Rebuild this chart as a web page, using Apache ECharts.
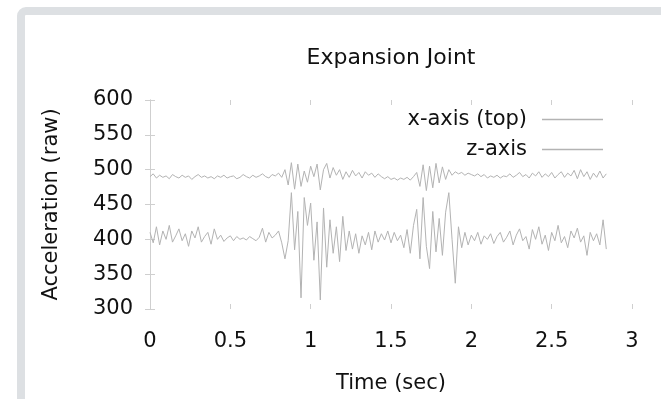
<!DOCTYPE html>
<html>
<head>
<meta charset="utf-8">
<script src="https://cdn.jsdelivr.net/npm/echarts@6.0.0/dist/echarts.min.js"></script>
<style>
  html, body { margin: 0; padding: 0; background: #fff; }
  #chart { width: 661px; height: 399px; }
</style>
</head>
<body>
<div id="chart"></div>
<script>
// sample spacing of the recording, seconds
const DT = 0.02;

const xTicks = [0, 0.5, 1, 1.5, 2, 2.5, 3];
const yTicks = [300, 350, 400, 450, 500, 550, 600];

// x-axis (top) accelerometer trace, raw counts
const xAxisRaw = [
  490, 494, 488, 492, 489, 491, 487, 493, 490, 488,
  492, 489, 491, 486, 490, 493, 489, 491, 488, 490,
  487, 491, 489, 492, 488, 490, 491, 487, 489, 493,
  490, 488, 492, 489, 491, 494, 490, 488, 493, 491,
  495, 489,
  500, 478, 510, 472, 508, 476, 498, 482, 505, 490,
  508, 471, 500, 509, 488, 503, 492, 500, 486, 497,
  489, 499, 491, 496, 488, 497, 492, 495, 489, 494,
  490, 487, 490, 486, 488, 485, 488, 486, 489, 485,
  490, 496, 476, 507, 470, 505, 474, 509, 481, 504,
  486, 500, 492, 497, 494, 496, 492, 495, 493, 491,
  494, 490, 493, 488, 491, 489, 492, 488, 491, 490,
  494, 489, 492, 496, 490, 493, 488, 495, 491, 497,
  489, 494, 490, 496, 488, 493, 497, 489, 495, 491,
  499, 487, 500, 490, 497, 486, 495, 489, 498, 488,
  494
];

// z-axis accelerometer trace, raw counts
const zAxisRaw = [
  410, 395, 418, 392, 412, 400, 420, 396, 405, 415,
  398, 408, 390, 412, 402, 418, 396, 404, 410, 393,
  415, 400, 406, 397, 402, 405, 398, 404, 400, 402,
  399, 404, 401, 398, 403, 416, 396, 410, 402, 406,
  412, 395, 372, 398, 467, 385, 440, 316, 460, 420,
  452, 370, 425, 313, 445, 360, 428, 380, 418, 368,
  433, 384, 412, 386, 408, 380, 405, 392, 410, 385,
  412, 396, 408, 399, 412, 395, 410, 398, 406, 388,
  414, 380, 420, 443, 372, 460, 390, 358, 440, 382,
  430, 377, 439, 467, 400, 337, 418, 388, 410, 392,
  406, 398, 410, 393, 405, 400, 408, 394, 404, 410,
  396, 403, 412, 392, 406, 415, 398, 404, 386, 414,
  400, 418, 393, 406, 384, 410, 398, 420, 395, 404,
  388, 412, 402, 416, 396, 405, 377, 410, 398, 408,
  392, 428, 386
];

const toPairs = (arr) => arr.map((v, i) => [Number((i * DT).toFixed(2)), v]);

const FONT = "DejaVu Sans";
const TEXT = "#111";
const AXIS = "#cfcfcf";

const chart = echarts.init(document.getElementById("chart"));

const option = {
  animation: false,
  backgroundColor: "#fff",
  graphic: [
    {
      type: "rect",
      silent: true,
      shape: { x: 21, y: 11, width: 800, height: 600, r: 5 },
      style: { fill: "none", stroke: "#dde0e3", lineWidth: 8 },
    },
  ],
  title: {
    text: "Expansion Joint",
    left: 386,
    top: 42,
    textAlign: "center",
    textStyle: { fontFamily: FONT, fontSize: 22, fontWeight: "normal", color: TEXT },
  },
  legend: {
    orient: "vertical",
    align: "right",
    right: 53,
    top: 104,
    icon: "rect",
    itemWidth: 61,
    itemHeight: 1.5,
    itemGap: 9,
    data: ["x-axis (top)", "z-axis"],
    textStyle: {
      fontFamily: FONT,
      fontSize: 21,
      lineHeight: 21,
      color: TEXT,
      padding: [0, 10, 0, 0],
    },
  },
  grid: { left: 150, right: 29, top: 100, bottom: 88 },
  xAxis: [
    {
      type: "value",
      position: "bottom",
      min: xTicks[0],
      max: xTicks[xTicks.length - 1],
      interval: 0.5,
      name: "Time (sec)",
      nameLocation: "middle",
      nameGap: 64,
      nameTextStyle: { fontFamily: FONT, fontSize: 21, color: TEXT },
      axisLine: { show: false },
      axisTick: { inside: true, length: 5, lineStyle: { color: AXIS } },
      axisLabel: { margin: 22, fontFamily: FONT, fontSize: 21, color: TEXT },
      splitLine: { show: false },
    },
    {
      type: "value",
      position: "top",
      min: xTicks[0],
      max: xTicks[xTicks.length - 1],
      interval: 0.5,
      axisLine: { show: false },
      axisTick: { inside: true, length: 5, lineStyle: { color: AXIS } },
      axisLabel: { show: false },
      splitLine: { show: false },
    },
  ],
  yAxis: [
    {
      type: "value",
      position: "left",
      min: yTicks[0],
      max: yTicks[yTicks.length - 1],
      interval: 50,
      name: "Acceleration (raw)",
      nameLocation: "middle",
      nameGap: 88,
      nameTextStyle: { fontFamily: FONT, fontSize: 21, color: TEXT },
      axisLine: { show: true, lineStyle: { color: AXIS } },
      axisTick: { inside: true, length: 5, lineStyle: { color: AXIS } },
      axisLabel: { margin: 17, fontFamily: FONT, fontSize: 21, color: TEXT },
      splitLine: { show: false },
    },
    {
      type: "value",
      position: "right",
      min: yTicks[0],
      max: yTicks[yTicks.length - 1],
      interval: 50,
      axisLine: { show: true, lineStyle: { color: AXIS } },
      axisTick: { inside: true, length: 5, lineStyle: { color: AXIS } },
      axisLabel: { show: false },
      splitLine: { show: false },
    },
  ],
  series: [
    {
      name: "x-axis (top)",
      type: "line",
      showSymbol: false,
      color: "#b3b3b3",
      lineStyle: { width: 1 },
      data: toPairs(xAxisRaw),
    },
    {
      name: "z-axis",
      type: "line",
      showSymbol: false,
      color: "#b3b3b3",
      lineStyle: { width: 1 },
      data: toPairs(zAxisRaw),
    },
  ],
};

chart.setOption(option);
</script>
</body>
</html>
